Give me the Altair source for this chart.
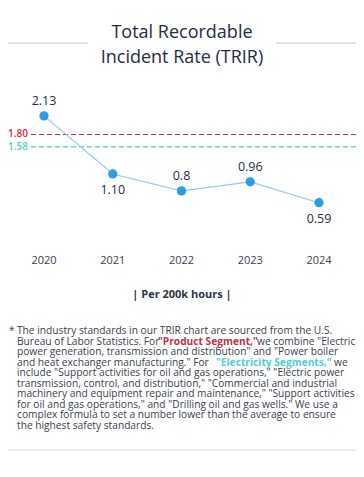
import altair as alt
import pandas as pd

# ---- data ----
years = [2020, 2021, 2022, 2023, 2024]
trir = [2.13, 1.10, 0.80, 0.96, 0.59]
trir_labels = ["2.13", "1.10", "0.8", "0.96", "0.59"]
label_side = ["above", "below", "above", "above", "below"]
year_labels = ["2020", "2021", "2022", "2023", "2024"]

ref_values = [1.80, 1.58]
ref_labels = ["1.80", "1.58"]
ref_names = ["Product Segment", "Electricity Segments"]
ref_colors = ["#c8323f", "#4fcfd2"]

title_lines = ["Total Recordable", "Incident Rate (TRIR)"]
unit_label = "| Per 200k hours |"

footnote_lines = [
    "The industry standards in our TRIR chart are sourced from the U.S.",
    "Bureau of Labor Statistics. For",
    "power generation, transmission and distribution\" and \"Power boiler",
    "and heat exchanger manufacturing.\" For",
    "include \"Support activities for oil and gas operations,\" \"Electric power",
    "transmission, control, and distribution,\" \"Commercial and industrial",
    "machinery and equipment repair and maintenance,\" \"Support activities",
    "for oil and gas operations,\" and \"Drilling oil and gas wells.\" We use a",
    "complex formula to set a number lower than the average to ensure",
    "the highest safety standards.",
]
product_hl = "\"Product Segment,\""
product_tail = "we combine \"Electric"
electric_hl = "\"Electricity Segments,\""
electric_tail = "we"

FONT = "Open Sans"
DARK = "#1f2d47"
TEXT = "#3a4150"

df = pd.DataFrame({"year": years, "trir": trir, "label": trir_labels,
                   "side": label_side, "ylabel": year_labels})
ref_df = pd.DataFrame({"value": ref_values, "label": ref_labels, "name": ref_names})
one = pd.DataFrame({"k": [0]})

xs = alt.Scale(domain=[2020, 2024], range=[36, 311])
ys = alt.Scale(domain=[0, 2.5], range=[228, 87], nice=False, zero=False)
X = alt.X("year:Q", scale=xs, axis=None)
Y = alt.Y("trir:Q", scale=ys, axis=None)
ref_color = alt.Color("name:N", scale=alt.Scale(domain=ref_names, range=ref_colors), legend=None)

base = alt.Chart(df)

line = base.mark_line(color="#8fcdf0", strokeWidth=1.2).encode(x=X, y=Y)
pts = base.mark_point(filled=True, color="#2e9be6", size=85, opacity=1).encode(x=X, y=Y)
lab_up = base.transform_filter(alt.datum.side == "above").mark_text(
    font=FONT, fontSize=12.5, color=DARK, dy=-15).encode(x=X, y=Y, text="label:N")
lab_dn = base.transform_filter(alt.datum.side == "below").mark_text(
    font=FONT, fontSize=12.5, color=DARK, dy=16).encode(x=X, y=Y, text="label:N")
yr = base.mark_text(font=FONT, fontSize=11, color=TEXT).encode(
    x=X, y=alt.value(253), text="ylabel:N")

rules = alt.Chart(ref_df).mark_rule(strokeDash=[5, 3], strokeWidth=1.2).encode(
    y=alt.Y("value:Q", scale=ys, axis=None), x=alt.value(23), x2=alt.value(348), color=ref_color)
rule_lab = alt.Chart(ref_df).mark_text(font=FONT, fontSize=10, fontWeight=600, align="right").encode(
    y=alt.Y("value:Q", scale=ys, axis=None), x=alt.value(20), text="label:N", color=ref_color)

def txt(s, x, y, **kw):
    return alt.Chart(one).mark_text(font=FONT, baseline="middle", **kw).encode(
        x=alt.value(x), y=alt.value(y), text=alt.value(s))

def hline(x1, x2, y, color="#d7dadf"):
    return alt.Chart(one).mark_rule(color=color, strokeWidth=1.5).encode(
        x=alt.value(x1), x2=alt.value(x2), y=alt.value(y))

t1 = txt(title_lines[0], 174, 25, fontSize=18, color=DARK)
t2 = txt(title_lines[1], 174, 50, fontSize=18, color=DARK)
l1 = hline(0, 80, 35)
l2 = hline(268, 348, 35)
unit = txt(unit_label, 174, 287, fontSize=11, fontWeight="bold", color="#2b3545")

LH = 10.5
FY = 323
FS = 10.2
foot_layers = [txt(s, 9, FY + i * LH, fontSize=FS, color=TEXT, align="left")
               for i, s in enumerate(footnote_lines)]
star = txt("*", 1, FY, fontSize=10, color=TEXT, align="left")
p_hl = txt(product_hl, 150, FY + LH, fontSize=FS, fontWeight="bold", color=ref_colors[0], align="left")
p_tl = txt(product_tail, 249, FY + LH, fontSize=FS, color=TEXT, align="left")
e_hl = txt(electric_hl, 208, FY + 3 * LH, fontSize=FS, fontWeight="bold", color=ref_colors[1], align="left")
e_tl = txt(electric_tail, 326, FY + 3 * LH, fontSize=FS, color=TEXT, align="left")
l3 = hline(0, 348, 442, color="#e3e5e8")

chart = alt.layer(
    l1, l2, t1, t2, rules, rule_lab, line, pts, lab_up, lab_dn, yr, unit,
    *foot_layers, star, p_hl, p_tl, e_hl, e_tl, l3
).properties(
    width=348, height=461, padding=0, autosize=alt.AutoSizeParams(type="none"),
    background="white"
).configure_view(stroke=None)

chart.save("out.html", embed_options={"renderer": "svg", "actions": False})
